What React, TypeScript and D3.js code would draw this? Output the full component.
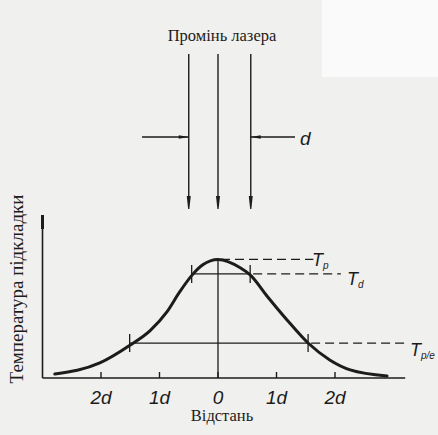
import React from "react";
import * as d3 from "d3";

// Curve: distance (in units of d) vs relative substrate temperature
const curveX = [-2.79, -2.02, -1.5, -1.16, -0.87, -0.65, -0.44, -0.26, 0, 0.38, 0.55, 0.84, 1.18, 1.54, 1.91, 2.26, 2.89];
const curveY = [0.034, 0.127, 0.278, 0.4, 0.56, 0.73, 0.87, 0.955, 1.0, 0.93, 0.87, 0.69, 0.49, 0.295, 0.152, 0.068, 0.017];

const tickValues = [-2, -1, 0, 1, 2];
const tickLabels = ["2d", "1d", "0", "1d", "2d"];

const levelNames = ["p", "d", "p/e"];
const levelValues = [1.0, 0.878, 0.295];
const levelLeft = [0, -0.45, -1.51];
const levelRight = [0, 0.55, 1.54];
const dashEnd = [1.63, 2.1, 3.2];

const beamX = [-0.5, 0, 0.56];

const title = "Промінь лазера";
const xTitle = "Відстань";
const yTitle = "Температура підкладки";

export default function App() {
  const W = 438, H = 435;
  const x = d3.scaleLinear().domain([-3, 3.2]).range([42.5, 405.2]);
  const y = d3.scaleLinear().domain([0, 1.375]).range([378, 215]);
  const ink = "#1c1c1c";
  const pts = curveX.map((v, i) => [v, curveY[i]] as [number, number]);
  const line = d3.line<[number, number]>().x(d => x(d[0])).y(d => y(d[1])).curve(d3.curveMonotoneX);

  const labelPos = [
    { lx: 312, ly: 266 },
    { lx: 347, ly: 285 },
    { lx: 410, ly: 356 },
  ];

  return (
    <svg width={W} height={H} style={{ position: "fixed", left: 0, top: 0 }}>
      <rect width={W} height={H} fill="#f0f0ee" />
      <rect x={322} y={0} width={116} height={77} fill="#fafafa" />
      {/* title */}
      <text x={222} y={41} textAnchor="middle" fontFamily="Liberation Serif" fontSize={16.5} fill={ink}>{title}</text>
      {/* beam arrows */}
      {beamX.map((b, i) => (
        <g key={i}>
          <line x1={x(b)} x2={x(b)} y1={54} y2={200} stroke={ink} strokeWidth={1.4} />
          <path d={`M${x(b) - 2},${196} L${x(b) + 2},${196} L${x(b) + 0.6},${209} L${x(b) - 0.6},${209} Z`} fill={ink} />
        </g>
      ))}
      {/* dimension arrows */}
      <line x1={142} x2={x(beamX[0])} y1={137} y2={137} stroke={ink} strokeWidth={1.3} />
      <path d={`M${x(beamX[0])},137 L${x(beamX[0]) - 10},135.3 L${x(beamX[0]) - 10},138.7 Z`} fill={ink} />
      <line x1={295} x2={x(beamX[2])} y1={137} y2={137} stroke={ink} strokeWidth={1.3} />
      <path d={`M${x(beamX[2])},137 L${x(beamX[2]) + 10},135.3 L${x(beamX[2]) + 10},138.7 Z`} fill={ink} />
      <text x={300} y={145} fontFamily="Liberation Sans" fontStyle="italic" fontSize={19} fill={ink}>d</text>

      {/* axes */}
      <line x1={x(-3)} x2={x(-3)} y1={y(1.375)} y2={y(0)} stroke={ink} strokeWidth={1.6} />
      <line x1={x(-3)} x2={x(-3)} y1={y(1.375)} y2={y(1.375) + 14} stroke={ink} strokeWidth={3} />
      <line x1={x(-3)} x2={x(3.2)} y1={y(0)} y2={y(0)} stroke={ink} strokeWidth={1.6} />
      {tickValues.map((t, i) => (
        <g key={i}>
          <line x1={x(t)} x2={x(t)} y1={y(0)} y2={y(0) - 6} stroke={ink} strokeWidth={1.4} />
          <text x={x(t)} y={404} textAnchor="middle" fontFamily="Liberation Sans" fontStyle="italic" fontSize={19} fill={ink}>{tickLabels[i]}</text>
        </g>
      ))}
      {/* center line */}
      <line x1={x(0)} x2={x(0)} y1={y(1)} y2={y(0)} stroke={ink} strokeWidth={1.3} />

      {/* levels */}
      {levelValues.map((v, i) => (
        <g key={i}>
          {levelRight[i] > levelLeft[i] && (
            <>
              <line x1={x(levelLeft[i])} x2={x(levelRight[i])} y1={y(v)} y2={y(v)} stroke={ink} strokeWidth={1.3} />
              <line x1={x(levelLeft[i])} x2={x(levelLeft[i])} y1={y(v) - 9} y2={y(v) + 9} stroke={ink} strokeWidth={1.3} />
              <line x1={x(levelRight[i])} x2={x(levelRight[i])} y1={y(v) - 9} y2={y(v) + 9} stroke={ink} strokeWidth={1.3} />
            </>
          )}
          <line x1={x(levelRight[i]) + 3} x2={x(dashEnd[i])} y1={y(v)} y2={y(v)} stroke={ink} strokeWidth={1.3} strokeDasharray="9 5" />
          <text x={labelPos[i].lx} y={labelPos[i].ly} fontFamily="Liberation Sans" fontStyle="italic" fontSize={18} fill={ink}>
            T<tspan fontSize={10} dy={3}>{levelNames[i]}</tspan>
          </text>
        </g>
      ))}

      {/* curve */}
      <path d={line(pts) || ""} fill="none" stroke={ink} strokeWidth={3} strokeLinecap="round" />

      {/* axis titles */}
      <text x={222} y={421} textAnchor="middle" fontFamily="Liberation Serif" fontSize={16.5} fill={ink}>{xTitle}</text>
      <text transform="translate(23,289) rotate(-90)" textAnchor="middle" fontFamily="Liberation Serif" fontSize={19} fill={ink}>{yTitle}</text>
    </svg>
  );
}
